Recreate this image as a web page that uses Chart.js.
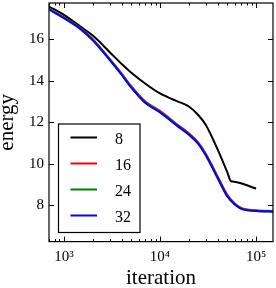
<!DOCTYPE html>
<html>
<head>
<meta charset="utf-8">
<script src="https://cdn.jsdelivr.net/npm/chart.js@4.4.0/dist/chart.umd.min.js"></script>
<style>
    html, body { margin: 0; padding: 0; background: #fff; }
    #wrap { width: 276px; height: 288px; position: relative; }
</style>
</head>
<body>
<div id="wrap"><canvas id="energyChart"></canvas></div>
<script>
// Iterations (black curve stops at 1e5)
const iterations8 = [700, 1000, 1500, 2000, 3000, 4000, 5000, 7000, 10000, 12500, 15000, 20000, 25000, 30000, 40000, 50000, 55000, 57000, 100000];
const energy8 = [17.57, 17.17, 16.59, 16.17, 15.37, 14.80, 14.39, 13.86, 13.38, 13.17, 13.01, 12.75, 12.34, 11.86, 10.66, 9.60, 9.15, 9.14, 8.80];

// The other three curves share the same iterations
const iterations = [700, 1000, 1500, 2000, 3000, 4000, 5000, 7000, 10000, 15000, 20000, 25000, 30000, 40000, 50000, 60000, 70000, 100000, 150000];
const energy16 = [17.46, 17.05, 16.52, 16.00, 15.05, 14.34, 13.74, 13.00, 12.54, 11.90, 11.46, 11.02, 10.47, 9.37, 8.51, 8.08, 7.86, 7.75, 7.72];
const energy24 = [17.44, 17.03, 16.50, 15.97, 15.02, 14.30, 13.70, 12.96, 12.50, 11.86, 11.42, 10.98, 10.43, 9.32, 8.47, 8.05, 7.84, 7.73, 7.70];
const energy32 = [17.43, 17.01, 16.47, 15.94, 14.99, 14.27, 13.67, 12.93, 12.47, 11.83, 11.39, 10.95, 10.39, 9.28, 8.43, 8.03, 7.82, 7.71, 7.68];

const seriesLabels = ['8', '16', '24', '32'];
const xMajorTicks = [1000, 10000, 100000];
const xTickLabels = ['10³', '10⁴', '10⁵'];
const yTicks = [8, 10, 12, 14, 16];

const seriesColors = ['#000000', '#ff0000', '#008000', '#0000ff'];
const serif = '"Liberation Serif", "Times New Roman", serif';

// Turn two arrays into {x, y} points
function toPoints(xs, ys) {
    return xs.map((x, i) => ({ x: x, y: ys[i] }));
}

// Frame with inward ticks on all four sides, like the original plot
const frameTicks = {
    id: 'frameTicks',
    afterDraw(chart) {
        const { ctx, chartArea: a, scales: { x, y } } = chart;
        ctx.save();
        ctx.strokeStyle = '#000';
        ctx.lineWidth = 1.2;
        ctx.strokeRect(a.left, a.top, a.right - a.left, a.bottom - a.top);

        ctx.lineWidth = 1;
        ctx.beginPath();
        const lo = Math.floor(Math.log10(x.min));
        const hi = Math.ceil(Math.log10(x.max));
        for (let k = lo; k <= hi; k++) {
            for (let m = 1; m <= 9; m++) {
                const v = m * Math.pow(10, k);
                if (v < x.min || v > x.max) continue;
                const px = Math.round(x.getPixelForValue(v)) + 0.5;
                const len = m === 1 ? 5 : 2.5;
                ctx.moveTo(px, a.bottom);
                ctx.lineTo(px, a.bottom - len);
                ctx.moveTo(px, a.top);
                ctx.lineTo(px, a.top + len);
            }
        }
        yTicks.forEach(v => {
            const py = Math.round(y.getPixelForValue(v)) + 0.5;
            ctx.moveTo(a.left, py);
            ctx.lineTo(a.left + 5, py);
            ctx.moveTo(a.right, py);
            ctx.lineTo(a.right - 5, py);
        });
        ctx.stroke();
        ctx.restore();
    }
};

// Boxed legend in the lower left of the plot
const boxLegend = {
    id: 'boxLegend',
    afterDraw(chart) {
        const { ctx, chartArea: a } = chart;
        const left = a.left + 9.5, top = a.top + 121;
        const w = 81.5, h = 108.5;
        ctx.save();
        ctx.fillStyle = '#fff';
        ctx.fillRect(left, top, w, h);
        ctx.strokeStyle = '#000';
        ctx.lineWidth = 1.2;
        ctx.strokeRect(left, top, w, h);
        ctx.font = '16px ' + serif;
        ctx.textBaseline = 'middle';
        ctx.textAlign = 'left';
        chart.data.datasets.forEach((ds, i) => {
            const rowY = top + 13.5 + i * 26;
            ctx.strokeStyle = ds.borderColor;
            ctx.lineWidth = 2;
            ctx.beginPath();
            ctx.moveTo(left + 12, rowY);
            ctx.lineTo(left + 38.5, rowY);
            ctx.stroke();
            ctx.fillStyle = '#000';
            ctx.fillText(ds.label, left + 56.5, rowY + 2);
        });
        ctx.restore();
    }
};

// Drop the extra room Chart.js keeps for half tick labels at the ends
function fixPadding(scale) {
    scale.paddingTop = 0;
    scale.paddingBottom = 0;
    scale.paddingLeft = 0;
    scale.paddingRight = 0;
}

const ctx = document.getElementById('energyChart').getContext('2d');
const seriesData = [
    toPoints(iterations8, energy8),
    toPoints(iterations, energy16),
    toPoints(iterations, energy24),
    toPoints(iterations, energy32)
];

new Chart(ctx, {
    type: 'line',
    data: {
        datasets: seriesData.map((pts, i) => ({
            label: seriesLabels[i],
            data: pts,
            borderColor: seriesColors[i],
            backgroundColor: seriesColors[i],
            borderWidth: 2,
            pointRadius: 0,
            fill: false,
            cubicInterpolationMode: 'monotone',
            order: 3 - i
        }))
    },
    options: {
        responsive: true,
        maintainAspectRatio: false,
        animation: false,
        layout: { padding: { top: 3, right: 3, left: 0, bottom: 0 } },
        plugins: {
            legend: { display: false },
            tooltip: { enabled: false }
        },
        scales: {
            x: {
                type: 'logarithmic',
                min: 700,
                max: 150000,
                grid: { display: false, drawTicks: false },
                border: { display: false },
                afterBuildTicks: scale => {
                    scale.ticks = xMajorTicks.map(v => ({ value: v }));
                },
                afterFit: scale => {
                    scale.height = 46.4;
                    fixPadding(scale);
                },
                ticks: {
                    autoSkip: false,
                    maxRotation: 0,
                    padding: 6,
                    color: '#000',
                    font: { family: serif, size: 15 },
                    callback: (value) => {
                        const idx = xMajorTicks.indexOf(value);
                        return idx >= 0 ? xTickLabels[idx] : '';
                    }
                },
                title: {
                    display: true,
                    text: 'iteration',
                    color: '#000',
                    font: { family: serif, size: 21, lineHeight: 1 },
                    padding: { top: 0, bottom: -1 }
                }
            },
            y: {
                min: 6.24,
                max: 17.74,
                grid: { display: false, drawTicks: false },
                border: { display: false },
                afterBuildTicks: scale => {
                    scale.ticks = yTicks.map(v => ({ value: v }));
                },
                afterFit: scale => {
                    scale.width = 49;
                    fixPadding(scale);
                },
                ticks: {
                    autoSkip: false,
                    padding: 5,
                    color: '#000',
                    font: { family: serif, size: 15 }
                },
                title: {
                    display: true,
                    text: 'energy',
                    color: '#000',
                    font: { family: serif, size: 21, lineHeight: 1 },
                    padding: { top: -3, bottom: 0 }
                }
            }
        }
    },
    plugins: [frameTicks, boxLegend]
});
</script>
</body>
</html>
